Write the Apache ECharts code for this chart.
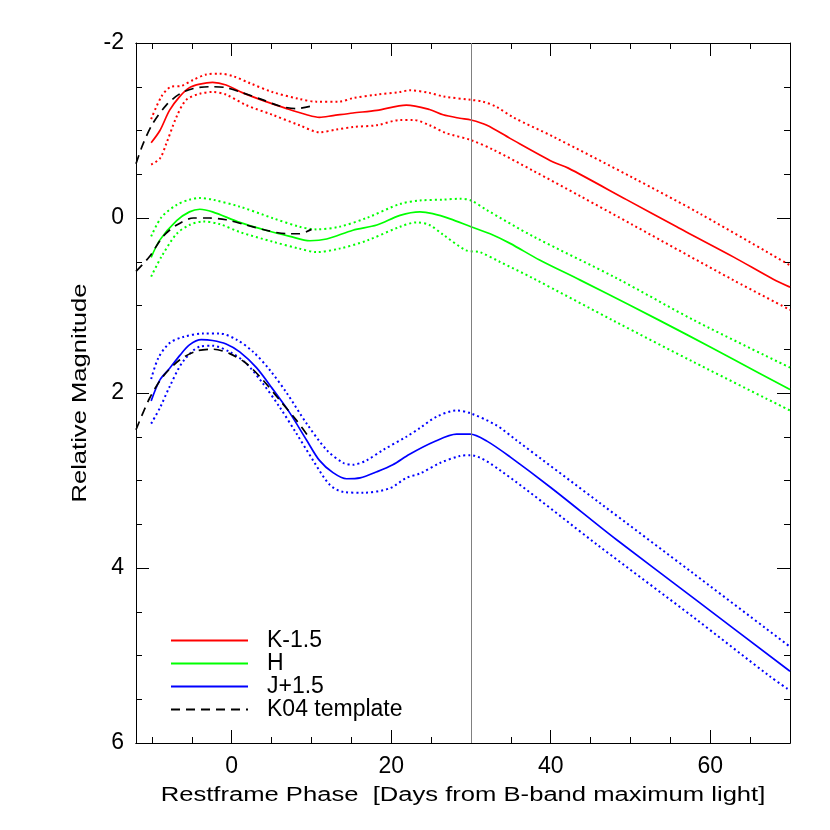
<!DOCTYPE html>
<html>
<head>
<meta charset="utf-8">
<script src="https://cdn.jsdelivr.net/npm/echarts@6/dist/echarts.min.js"></script>
<style>
  html, body { margin: 0; padding: 0; background: #fff; }
  #main { width: 830px; height: 830px; }
</style>
</head>
<body>
<div id="main"></div>
<script>
// phase (days), magnitude pairs
var kMid = [[-10.1,-0.86],[-9,-1.0],[-7.8,-1.23],[-6.5,-1.39],[-5.3,-1.49],[-4,-1.53],[-2.4,-1.55],[-0.7,-1.52],[1.4,-1.43],[4.3,-1.33],[6.9,-1.25],[9.4,-1.18],[11,-1.15],[12.7,-1.17],[15.2,-1.2],[18.2,-1.23],[21.9,-1.29],[24.8,-1.24],[26.5,-1.18],[28.6,-1.14],[30,-1.12],[32,-1.06],[34.9,-0.91],[40.3,-0.64],[42.2,-0.57],[49.5,-0.21],[55.8,0.1],[57,0.16],[63,0.45],[67.9,0.70],[70,0.79]];
var kHi = [[-10.1,-1.13],[-8.8,-1.39],[-7.6,-1.50],[-6.3,-1.51],[-4.8,-1.58],[-3.2,-1.64],[-1.5,-1.65],[0.2,-1.62],[2.3,-1.54],[5.1,-1.44],[8.5,-1.36],[10.6,-1.33],[13.5,-1.33],[15.2,-1.37],[18.2,-1.41],[21.1,-1.44],[22.3,-1.46],[24.8,-1.43],[26.5,-1.39],[30,-1.35],[31.5,-1.33],[33.2,-1.27],[35.3,-1.15],[40.3,-0.93],[50.3,-0.46],[58.7,-0.05],[70,0.54]];
var kLo = [[-10.1,-0.61],[-9,-0.68],[-8.2,-0.85],[-6.9,-1.16],[-5.7,-1.35],[-4,-1.42],[-2.4,-1.44],[-0.7,-1.41],[1.8,-1.29],[5.1,-1.18],[8.5,-1.06],[11,-0.98],[13.1,-1.01],[15.2,-1.04],[18.2,-1.06],[21.1,-1.12],[22.8,-1.12],[24.8,-1.06],[26.9,-0.97],[30,-0.89],[32.8,-0.78],[37.8,-0.54],[43.7,-0.25],[50.3,0.08],[62.9,0.71],[70,1.05]];

var hMid = [[-10.1,0.45],[-9,0.25],[-6.9,0.03],[-5.3,-0.07],[-4,-0.10],[-2.4,-0.07],[1,0.05],[4.3,0.14],[7.3,0.21],[9.8,0.26],[11.9,0.24],[15.2,0.14],[18.2,0.08],[21.1,-0.03],[23.6,-0.07],[25.2,-0.05],[27.4,0.01],[30,0.10],[32.4,0.18],[34.9,0.29],[38.6,0.48],[43.7,0.71],[50,1.0],[57,1.33],[63,1.62],[70,1.96]];
var hHi = [[-10.1,0.21],[-8.8,-0.01],[-6.9,-0.15],[-5.3,-0.21],[-4,-0.23],[-2.4,-0.21],[1,-0.13],[5.1,0.0],[8.5,0.10],[10.6,0.13],[13.5,0.10],[16.9,0.0],[21.1,-0.16],[23.6,-0.20],[26.5,-0.21],[28.6,-0.22],[30,-0.20],[32,-0.09],[37.8,0.21],[48.3,0.69],[58,1.17],[70,1.71]];
var hLo = [[-10.1,0.67],[-8.8,0.44],[-6.9,0.18],[-5.3,0.08],[-3.6,0.04],[-1.5,0.07],[1,0.16],[5.1,0.27],[8.5,0.35],[10.6,0.39],[13.5,0.35],[16.9,0.26],[21.1,0.10],[23.2,0.05],[24.8,0.08],[26.5,0.19],[29.4,0.37],[31.1,0.39],[33.6,0.50],[37.8,0.69],[48,1.18],[58,1.65],[70,2.20]];

var jMid = [[-10.1,2.09],[-9,1.85],[-7.8,1.72],[-6.5,1.57],[-5.3,1.45],[-3.8,1.39],[-2.4,1.40],[-0.7,1.44],[1,1.53],[3.1,1.71],[5.1,1.95],[7.3,2.23],[9.4,2.54],[11,2.77],[12.7,2.91],[14.4,2.98],[16.1,2.97],[18.2,2.90],[20.2,2.82],[22.3,2.70],[25.3,2.56],[28.2,2.47],[29.9,2.47],[32,2.55],[34.9,2.73],[40,3.08],[46.2,3.53],[48.3,3.68],[58,4.35],[70,5.18]];
var jHi = [[-10.1,1.84],[-9.2,1.60],[-7.8,1.43],[-6.1,1.36],[-3.6,1.32],[-1.5,1.32],[0.6,1.39],[2.7,1.53],[4.8,1.74],[6.9,2.00],[9.4,2.35],[11.9,2.65],[14,2.80],[15.2,2.82],[16.9,2.77],[19,2.65],[21.9,2.50],[23.6,2.40],[25.7,2.27],[28.2,2.20],[29.9,2.23],[33.2,2.37],[35.7,2.54],[46.2,3.26],[58,4.07],[70,4.90]];
var jLo = [[-10.1,2.35],[-9,2.17],[-7.8,1.93],[-6.1,1.64],[-4,1.47],[-2.4,1.46],[-0.25,1.53],[1.8,1.66],[3.9,1.89],[6,2.16],[8.1,2.46],[10.2,2.77],[12.3,3.05],[14,3.13],[16.5,3.14],[19.8,3.09],[21.9,2.97],[23.6,2.92],[26.1,2.80],[28.6,2.72],[29.9,2.71],[33.6,2.88],[46.2,3.76],[58,4.57],[67.5,5.24],[70,5.40]];

// K04 template pieces
var tplK = [[-12,-0.62],[-11.1,-0.85],[-9.9,-1.08],[-8.2,-1.29],[-6.5,-1.42],[-4.8,-1.48],[-2.8,-1.50],[-0.7,-1.49],[1.4,-1.43],[3.9,-1.35],[6,-1.28],[8.1,-1.25],[10,-1.28]];
var tplH = [[-12,0.61],[-10.3,0.44],[-8.6,0.21],[-6.9,0.08],[-4.8,0.0],[-2.8,0.0],[-0.7,0.02],[1.8,0.08],[4.3,0.14],[6.9,0.18],[8.5,0.18],[10,0.13]];
var tplJ = [[-12,2.42],[-10.3,2.06],[-8.6,1.81],[-6.5,1.62],[-4.4,1.52],[-2.3,1.50],[-0.25,1.55],[1.8,1.66],[3.9,1.85],[6,2.08],[8.1,2.31],[9.8,2.52]];

var xMajor = [0, 20, 40, 60];
var xMinor = [-10, -5, 5, 10, 15, 25, 30, 35, 45, 50, 55, 65];
var vLineX = 30;

var FONT = '"Liberation Sans", Arial, Helvetica, sans-serif';

var myChart = echarts.init(document.getElementById('main'));

function solid(name, data, color){
    return {
        name: name, type: 'line', data: data, symbol: 'none', smooth: 0.3,
        lineStyle: {color: color, width: 1.7}, itemStyle: {color: color}, z: 3
    };
}
function dotted(name, data, color){
    return {
        name: name, type: 'line', data: data, symbol: 'none', smooth: 0.3,
        lineStyle: {color: color, width: 2, type: [2, 3]}, itemStyle: {color: color}, z: 2
    };
}
function tpl(data){
    return {
        name: 'K04 template', type: 'line', data: data, symbol: 'none', smooth: 0.3,
        lineStyle: {color: '#000', width: 1.7, type: [9, 6]}, itemStyle: {color: '#000'}, z: 4
    };
}

var xBase = {type: 'value', min: -12, max: 70, splitLine: {show: false}};
function xAx(pos, ticks, len, labels){
    return Object.assign({}, xBase, {
        position: pos,
        axisLine: {show: true, onZero: false, lineStyle: {color: '#000', width: 1}},
        axisTick: {show: true, inside: true, length: len, customValues: ticks, lineStyle: {color: '#000', width: 1}},
        axisLabel: labels ? {show: true, customValues: ticks, fontSize: 23, margin: 12, color: '#000', fontFamily: FONT} : {show: false}
    });
}
function yAx(pos, labels){
    return {
        type: 'value', inverse: true, min: -2, max: 6, interval: 2, position: pos,
        splitLine: {show: false},
        axisLine: {show: true, onZero: false, lineStyle: {color: '#000', width: 1}},
        axisTick: {show: true, inside: true, length: 13, lineStyle: {color: '#000', width: 1}},
        minorTick: {show: true, splitNumber: 4, length: 6, lineStyle: {color: '#000', width: 1}},
        axisLabel: labels ? {show: true, fontSize: 23, margin: 12, color: '#000', fontFamily: FONT} : {show: false}
    };
}

var option = {
    animation: false,
    backgroundColor: '#fff',
    grid: {left: 136, right: 40, top: 43, bottom: 87},
    xAxis: [
        xAx('bottom', xMajor, 13, true),
        xAx('bottom', xMinor, 6, false),
        xAx('top', xMajor, 13, false),
        xAx('top', xMinor, 6, false)
    ],
    yAxis: [yAx('left', true), yAx('right', false)],
    legend: {
        left: 170, top: 629, orient: 'vertical', padding: 0,
        itemWidth: 77, itemHeight: 10, itemGap: 0,
        itemStyle: {opacity: 0, borderWidth: 0},
        textStyle: {fontSize: 23, lineHeight: 21, color: '#000', fontFamily: FONT, padding: [0, 0, 0, 14]},
        data: ['K-1.5', 'H', 'J+1.5', 'K04 template']
    },
    graphic: [
        {type: 'text', x: 463, y: 795, scaleX: 1.28,
         style: {text: 'Restframe Phase  [Days from B-band maximum light]', font: '20px ' + FONT, fill: '#000', textAlign: 'center', textVerticalAlign: 'middle'}},
        {type: 'text', x: 80, y: 393, scaleX: 1.28, rotation: Math.PI / 2,
         style: {text: 'Relative Magnitude', font: '20px ' + FONT, fill: '#000', textAlign: 'center', textVerticalAlign: 'middle'}}
    ],
    series: [
        Object.assign(solid('K-1.5', kMid, '#ff0000'), {
            markLine: {silent: true, symbol: 'none', label: {show: false},
                lineStyle: {color: '#808080', width: 1, type: 'solid'}, data: [{xAxis: vLineX}]}
        }),
        dotted('K hi', kHi, '#ff0000'),
        dotted('K lo', kLo, '#ff0000'),
        solid('H', hMid, '#00ff00'),
        dotted('H hi', hHi, '#00ff00'),
        dotted('H lo', hLo, '#00ff00'),
        solid('J+1.5', jMid, '#0000ff'),
        dotted('J hi', jHi, '#0000ff'),
        dotted('J lo', jLo, '#0000ff'),
        tpl(tplK),
        tpl(tplH),
        tpl(tplJ)
    ]
};

myChart.setOption(option);
</script>
</body>
</html>
